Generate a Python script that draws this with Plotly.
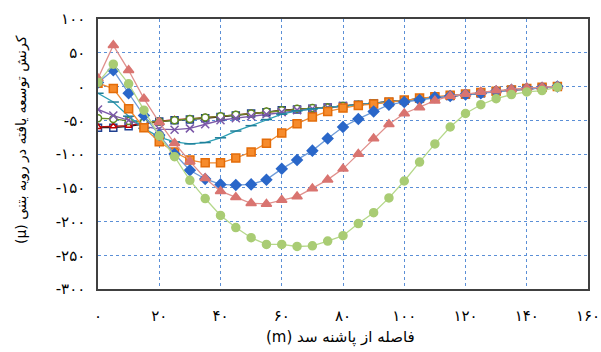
import plotly.graph_objects as go

# distance from dam heel (m)
distance = [0, 5, 10, 15, 20, 25, 30, 35, 40, 45, 50, 55, 60, 65, 70, 75,
            80, 85, 90, 95, 100, 105, 110, 115, 120, 125, 130, 135, 140, 145, 150]

# developed strain in the concrete face, one list per series
strain_black = [-61, -61, -59, -55, -52, -50, -49, -47, -45, -43, -40, -38, -35, -34, -33, -31,
                -29, -27, -25, -23, -21, -18, -16, -14, -12, -10, -7, -5, -3, -2, 0]
strain_darkred = [-60, -59, -58, -54, -51, -49, -48, -46, -44, -42, -40, -37, -35, -33, -32, -31,
                  -29, -27, -25, -23, -21, -18, -16, -14, -12, -10, -7, -5, -3, -2, 0]
strain_olive = [-47, -48, -51, -53, -52, -50, -48, -46, -44, -42, -40, -37, -35, -33, -32, -31,
                -29, -27, -25, -23, -21, -18, -16, -14, -12, -10, -7, -5, -3, -2, 0]
strain_purple = [-34, -43, -50, -59, -63, -64, -62, -56, -50, -47, -44, -41, -38, -35, -33, -31,
                 -29, -27, -25, -23, -21, -18, -16, -14, -12, -10, -7, -5, -3, -2, 0]
strain_teal = [-10, -23, -44, -62, -75, -82, -85, -83, -76, -66, -58, -49, -41, -36, -33, -31,
               -29, -27, -25, -23, -21, -18, -16, -14, -12, -10, -7, -5, -3, -2, 0]
strain_orange = [5, -3, -33, -61, -82, -97, -109, -113, -113, -106, -97, -84, -69, -55, -45, -37,
                 -32, -28, -26, -23, -20, -17, -15, -13, -11, -9, -7, -5, -3, -1, 0]
strain_blue = [6, 24, -10, -43, -72, -100, -124, -137, -145, -146, -145, -138, -122, -109, -95, -77,
               -60, -48, -37, -27, -23, -20, -16, -14, -12, -10, -7, -5, -3, -2, 0]
strain_red = [12, 61, 24, -18, -53, -84, -111, -136, -155, -164, -173, -174, -168, -163, -151, -138,
              -122, -100, -77, -56, -40, -31, -21, -14, -11, -8, -6, -4, -2, -1, 0]
strain_green = [6, 33, 4, -35, -73, -104, -139, -166, -191, -209, -224, -234, -234, -237, -236, -229,
                -221, -203, -187, -165, -140, -112, -85, -60, -40, -27, -18, -12, -8, -6, -1]

x_tick_vals = [0, 20, 40, 60, 80, 100, 120, 140, 160]
x_tick_text = ["۰", "۲۰", "۴۰", "۶۰", "۸۰", "۱۰۰", "۱۲۰", "۱۴۰", "۱۶۰"]
y_tick_vals = [100, 50, 0, -50, -100, -150, -200, -250, -300]
y_tick_text = ["۱۰۰", "۵۰", "۰", "-۵۰", "-۱۰۰", "-۱۵۰", "-۲۰۰", "-۲۵۰", "-۳۰۰"]

# unit placed first so it ends up on the left (bottom when rotated) in an LTR text box
x_title = "(m) فاصله از پاشنه سد"
y_title = "(µ) کرنش توسعه یافته در رویه بتنی"

FONT = "B Nazanin, DejaVu Sans, sans-serif"

series = [
    # values, line colour, marker symbol, marker fill, marker edge, size
    (strain_black, "#1a1a1a", "square", "#ffffff", "#1F3F8F", 7),
    (strain_darkred, "#B01010", "triangle-up", "#ffffff", "#C00000", 6),
    (strain_olive, "#6A8F2A", "circle", "#ffffff", "#5E8A22", 7),
    (strain_purple, "#7B58A8", "x-thin", "#7B58A8", "#7B58A8", 8),
    (strain_teal, "#2C9FB5", "line-ew", "#1F7F99", "#1F7F99", 8),
    (strain_orange, "#F08A30", "square", "#F68B2C", "#E36C09", 8),
    (strain_blue, "#6E9BD8", "diamond", "#2A67C9", "#2A67C9", 8),
    (strain_red, "#E0908C", "triangle-up", "#D97470", "#D97470", 9),
    (strain_green, "#B5D88A", "circle", "#A9CC74", "#A9CC74", 8),
]

fig = go.Figure()
for vals, lc, sym, fill, edge, size in series:
    fig.add_trace(go.Scatter(
        x=distance, y=vals, mode="lines+markers",
        line=dict(color=lc, width=1.3),
        marker=dict(symbol=sym, size=size, color=fill,
                    line=dict(color=edge, width=1.5)),
        showlegend=False, hoverinfo="skip",
    ))

fig.update_layout(
    width=601, height=352,
    margin=dict(l=98, r=13, t=19, b=63, autoexpand=False),
    paper_bgcolor="white", plot_bgcolor="white",
    font=dict(family=FONT, size=15, color="black"),
    showlegend=False,
)
fig.update_xaxes(
    range=[0, 160], tickvals=x_tick_vals, ticktext=x_tick_text,
    showgrid=True, gridcolor="#5B8FD6", griddash="dot", gridwidth=1,
    showline=True, linecolor="#404040", linewidth=1.5, mirror=True,
    zeroline=False, ticks="", ticklabelstandoff=12, automargin=False,
)
fig.update_yaxes(
    range=[-300, 100], tickvals=y_tick_vals, ticktext=y_tick_text,
    showgrid=True, gridcolor="#5B8FD6", griddash="dot", gridwidth=1,
    showline=True, linecolor="#404040", linewidth=1.5, mirror=True,
    zeroline=False, ticks="", ticklabelstandoff=8, automargin=False,
)

# axis titles placed as annotations in paper coordinates
fig.add_annotation(text=x_title, xref="paper", yref="paper", x=0.494, y=-0.181,
                   showarrow=False, xanchor="center", yanchor="middle",
                   font=dict(family=FONT, size=15, color="black"))
fig.add_annotation(text=y_title, xref="paper", yref="paper", x=-0.155, y=0.552,
                   showarrow=False, xanchor="center", yanchor="middle", textangle=-90,
                   font=dict(family=FONT, size=14, color="black"))

fig.write_html("out.html")
